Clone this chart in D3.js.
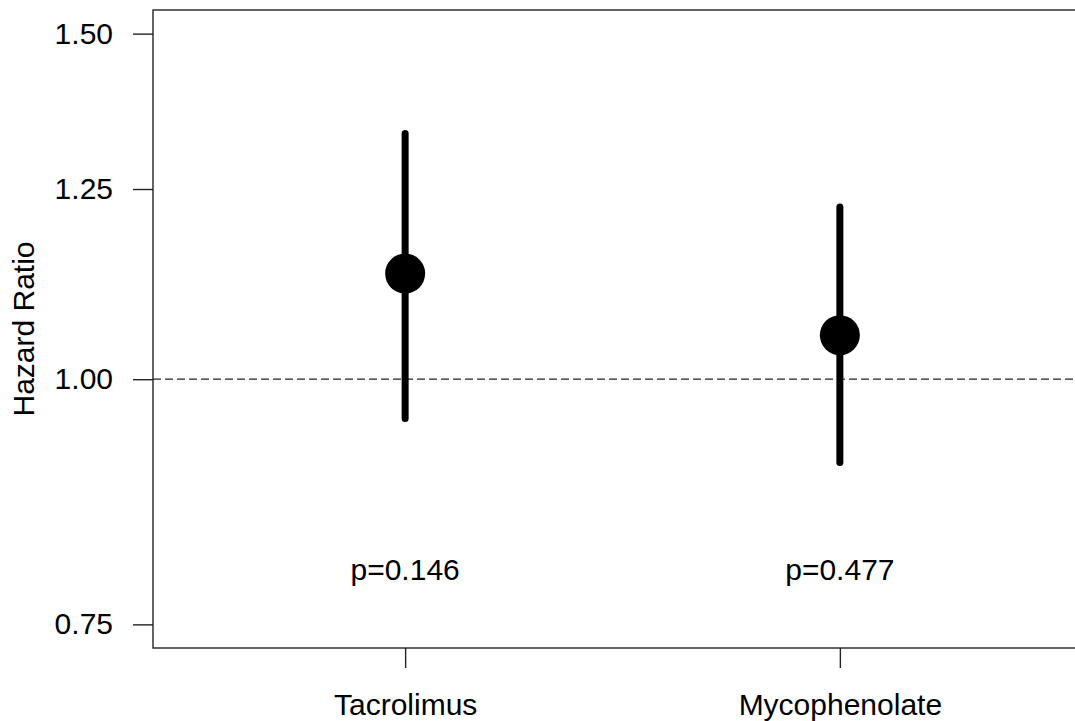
<!DOCTYPE html>
<html>
<head>
<meta charset="utf-8">
<script src="https://cdn.jsdelivr.net/npm/d3@7"></script>
<style>
  html, body { margin: 0; padding: 0; background: #fff; }
  svg { display: block; }
  text { font-family: Arial, "Liberation Sans", sans-serif; fill: #000; }
</style>
</head>
<body>
<figure style="margin:0"></figure>
<script>
// drugs on the x axis, hazard ratios with 95% CI
const drugs = ["Tacrolimus", "Mycophenolate"];
const hazardRatio = [1.132, 1.053];
const ciLower = [0.955, 0.907];
const ciUpper = [1.334, 1.224];
const pLabels = ["p=0.146", "p=0.477"];
const yTicks = [0.75, 1.0, 1.25, 1.5];

const width = 1075;
const height = 721;
const fontSize = 30;

// R-style 4% extension of xlim = c(0.5, 2.5) and log ylim = c(0.75, 1.5)
const ext = Math.pow(1.5 / 0.75, 0.04);
const x = d3.scaleLinear().domain([0.42, 2.58]).range([153, 1092]);
const y = d3.scaleLog().domain([0.75 / ext, 1.5 * ext]).range([648, 10]);

const svg = d3
  .select("figure")
  .append("svg")
  .attr("width", width)
  .attr("height", height);

// reference line at HR = 1
svg
  .append("line")
  .attr("x1", x.range()[0])
  .attr("x2", x.range()[1])
  .attr("y1", y(1))
  .attr("y2", y(1))
  .attr("stroke", "#222")
  .attr("stroke-width", 1.3)
  .attr("stroke-dasharray", "8,4");

// plot box (right edge falls off the canvas)
svg
  .append("rect")
  .attr("x", x.range()[0])
  .attr("y", y.range()[1])
  .attr("width", x.range()[1] - x.range()[0])
  .attr("height", y.range()[0] - y.range()[1])
  .attr("fill", "none")
  .attr("stroke", "#222")
  .attr("stroke-width", 1.4);

// y axis
const yAxis = svg
  .append("g")
  .attr("transform", `translate(${x.range()[0] - 20},0)`)
  .call(
    d3
      .axisLeft(y)
      .tickValues(yTicks)
      .tickFormat(d3.format(".2f"))
      .tickSize(-20)
      .tickPadding(20)
  );
yAxis.select(".domain").remove();
yAxis.selectAll(".tick line").attr("stroke", "#222").attr("stroke-width", 1.4);
yAxis
  .selectAll(".tick text")
  .attr("font-size", fontSize)
  .attr("font-family", "Arial, 'Liberation Sans', sans-serif")
  .attr("fill", "#000");

// x axis
const xAxis = svg
  .append("g")
  .attr("transform", `translate(0,${y.range()[0]})`)
  .call(
    d3
      .axisBottom(x)
      .tickValues([1, 2])
      .tickFormat((d) => drugs[d - 1])
      .tickSize(20)
      .tickPadding(26)
  );
xAxis.select(".domain").remove();
xAxis.selectAll(".tick line").attr("stroke", "#222").attr("stroke-width", 1.4);
xAxis
  .selectAll(".tick text")
  .attr("font-size", fontSize)
  .attr("font-family", "Arial, 'Liberation Sans', sans-serif")
  .attr("fill", "#000");

// y axis title
svg
  .append("text")
  .attr("transform", `translate(34,${(y.range()[0] + y.range()[1]) / 2}) rotate(-90)`)
  .attr("text-anchor", "middle")
  .attr("font-size", fontSize)
  .text("Hazard Ratio");

// CI lines and points
const rows = drugs.map((d, i) => ({
  i: i + 1,
  hr: hazardRatio[i],
  lo: ciLower[i],
  hi: ciUpper[i],
  p: pLabels[i],
}));

svg
  .selectAll("line.ci")
  .data(rows)
  .join("line")
  .attr("class", "ci")
  .attr("x1", (d) => x(d.i))
  .attr("x2", (d) => x(d.i))
  .attr("y1", (d) => y(d.lo))
  .attr("y2", (d) => y(d.hi))
  .attr("stroke", "#000")
  .attr("stroke-width", 7)
  .attr("stroke-linecap", "round");

svg
  .selectAll("circle.hr")
  .data(rows)
  .join("circle")
  .attr("class", "hr")
  .attr("cx", (d) => x(d.i))
  .attr("cy", (d) => y(d.hr))
  .attr("r", 20)
  .attr("fill", "#000");

svg
  .selectAll("text.pval")
  .data(rows)
  .join("text")
  .attr("class", "pval")
  .attr("x", (d) => x(d.i))
  .attr("y", y(0.8))
  .attr("dy", "0.35em")
  .attr("text-anchor", "middle")
  .attr("font-size", fontSize)
  .text((d) => d.p);
</script>
</body>
</html>
